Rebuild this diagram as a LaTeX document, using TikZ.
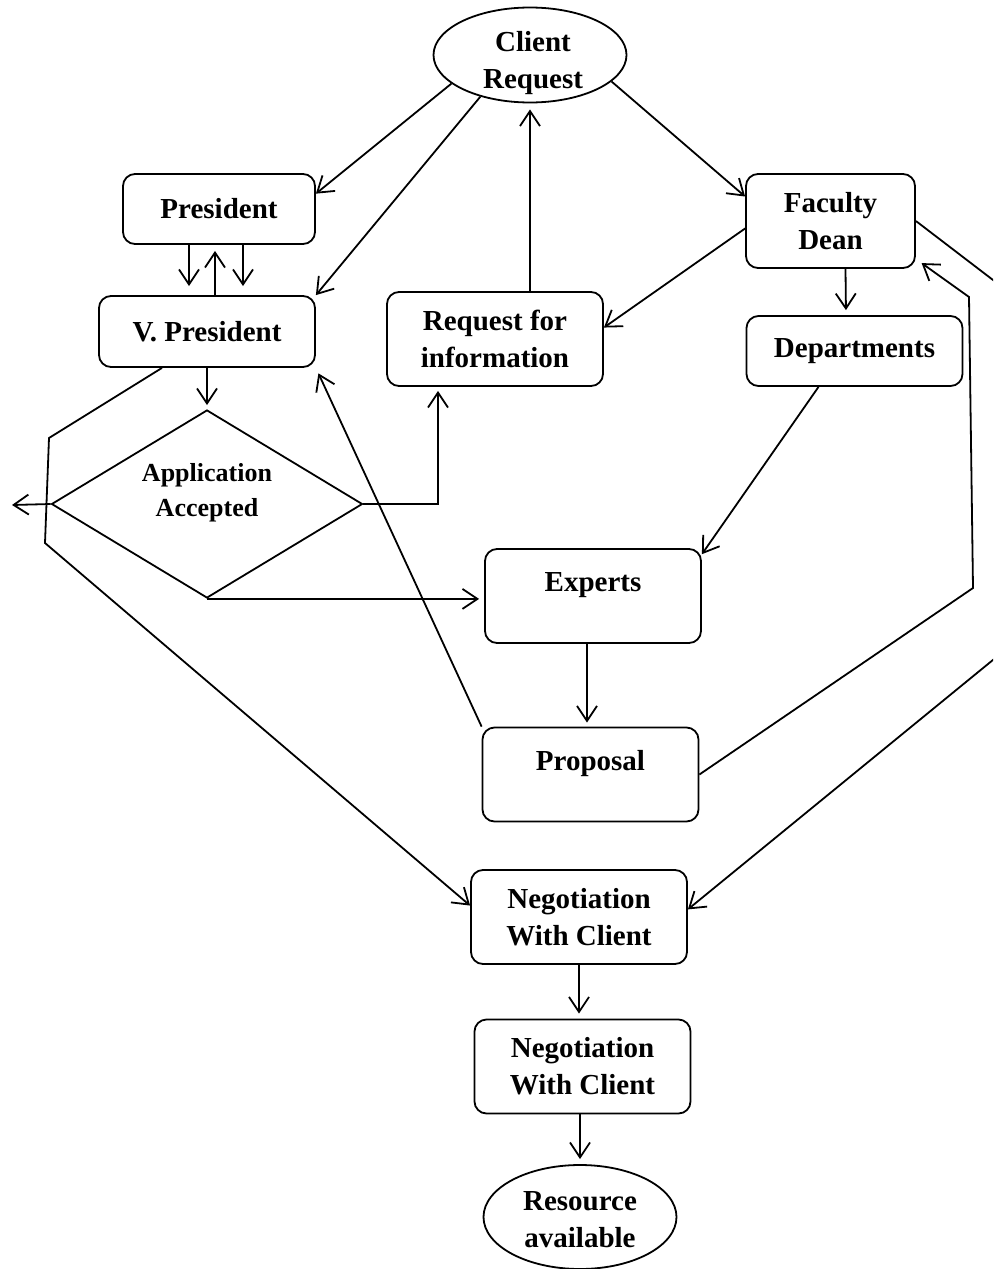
\documentclass[tikz,border=0pt]{standalone}
\usepackage{fontspec}
\setmainfont{Liberation Serif}
\usetikzlibrary{shapes.geometric,arrows.meta}
\tikzstyle{box} = [rectangle, rounded corners=6pt, draw=black, line width=0.9pt, minimum width=108pt, minimum height=47pt, inner sep=0pt, align=center, font=\bfseries\fontsize{14.5}{18.5}\selectfont]
\tikzstyle{oval} = [ellipse, draw=black, line width=0.9pt, inner sep=0pt]
\tikzstyle{decision} = [diamond, draw=black, line width=0.9pt, inner sep=0pt, minimum width=155.5pt, minimum height=94pt]
\tikzstyle{txt} = [align=center, inner sep=0pt, font=\bfseries\fontsize{14.5}{18.5}\selectfont]
\tikzstyle{smalltxt} = [align=center, inner sep=0pt, font=\bfseries\fontsize{13}{17.5}\selectfont]
\tikzstyle{arr} = [-{Straight Barb[length=7.5pt,width=10pt]}, line width=0.9pt]

\begin{document}
\begin{tikzpicture}[x=0.5pt, y=-0.5pt]

                    \useasboundingbox (0,0) rectangle (993,1269);
                    \clip (0,0) rectangle (993,1269);

                    \node[oval, minimum width=96.5pt, minimum height=47.5pt] (client) at (530,55) {};
                    \node[txt] (clienttxt) at (533,63.5) {Client\\Request};

                    \node[box, minimum width=96pt, minimum height=35pt] (pres) at (219,209) {President};
                    \node[box, minimum height=35.5pt] (vp) at (207,331.5) {V. President};
                    \node[box] (req) at (495,339) {Request for\\information};
                    \node[box, minimum width=84.5pt] (fd) at (830.5,221) {Faculty\\Dean};
                    \node[box, minimum height=35pt] (dep) at (854.5,351) {Departments};

                    \node[decision] (acc) at (207,504) {};
                    \node[smalltxt] (acctxt) at (207,493) {Application\\Accepted};

                    \node[box] (exp) at (593,596) {Experts\\[-4pt]~};
                    \node[box] (prop) at (590.5,774.5) {Proposal\\[-4pt]~};
                    \node[box] (nego) at (579,917) {Negotiation\\With Client};
                    \node[box] (negob) at (582.5,1066.5) {Negotiation\\With Client};

                    \node[oval, minimum width=96.5pt, minimum height=52pt] (res) at (580,1217) {};
                    \node[txt] (restxt) at (580,1219.5) {Resource\\available};

                    \coordinate (rej) at (12,505);
                    \coordinate (vpa) at (49,438);
                    \coordinate (vpb) at (45,543);
                    \coordinate (propa) at (973,588);
                    \coordinate (propb) at (969,297);
                    \coordinate (fda) at (1010,293);
                    \coordinate (fdb) at (1010,646);

                    \draw[arr] (client.200) -- (pres.9);
                    \draw[arr] (client.220) -- (vp.north east);
                    \draw[arr] (client.342) -- (fd.164);
                    \draw[arr, shorten >=3pt] (req.north -| client.south) -- (client.south);

                    \draw[arr, shorten >=4.5pt] ([xshift=-15pt]pres.south) -- ([xshift=-9pt]vp.north);
                    \draw[arr, shorten >=4.5pt] ([xshift=12pt]pres.south) -- ([xshift=18pt]vp.north);
                    \draw[arr, shorten >=3pt] ([xshift=4pt]vp.north) -- ([xshift=-2pt]pres.south);

                    \draw[arr, shorten >=2pt] (vp.south) -- (acc.north);
                    \draw[arr] ([xshift=-22.5pt]vp.south) -- (vpa) -- (vpb) -- (nego.174);
                    \draw[arr] (acc.west) -- (rej);
                    \draw[arr, shorten >=2pt] (acc.east) -| ([xshift=-28.5pt]req.south);
                    \draw[arr, shorten >=2.5pt] (acc.south) -- (acc.south -| exp.west);

                    \draw[arr, shorten >=3pt] (prop.north west) -- (vp.south east);
                    \draw[arr] (fd.185) -- (req.6);
                    \draw[arr, shorten >=2.5pt] ([xshift=7.5pt]fd.south) -- ([xshift=-4.25pt]dep.north);
                    \draw[arr] ([xshift=-18pt]dep.south) -- (exp.21);
                    \draw[arr, shorten >=2pt] ([xshift=-3pt]exp.south) -- ([xshift=-1.75pt]prop.north);

                    \draw[arr, shorten >=3.5pt] (prop.east) -- (propa) -- (propb) -- (fd.-24);
                    \draw[arr] (fd.east) -- (fda) -- (fdb) -- (nego.4);

                    \draw[arr, shorten >=2.5pt] (nego.south) -- (nego.south |- negob.north);
                    \draw[arr, shorten >=2.5pt] (res.north |- negob.south) -- (res.north);

\end{tikzpicture}
\end{document}
